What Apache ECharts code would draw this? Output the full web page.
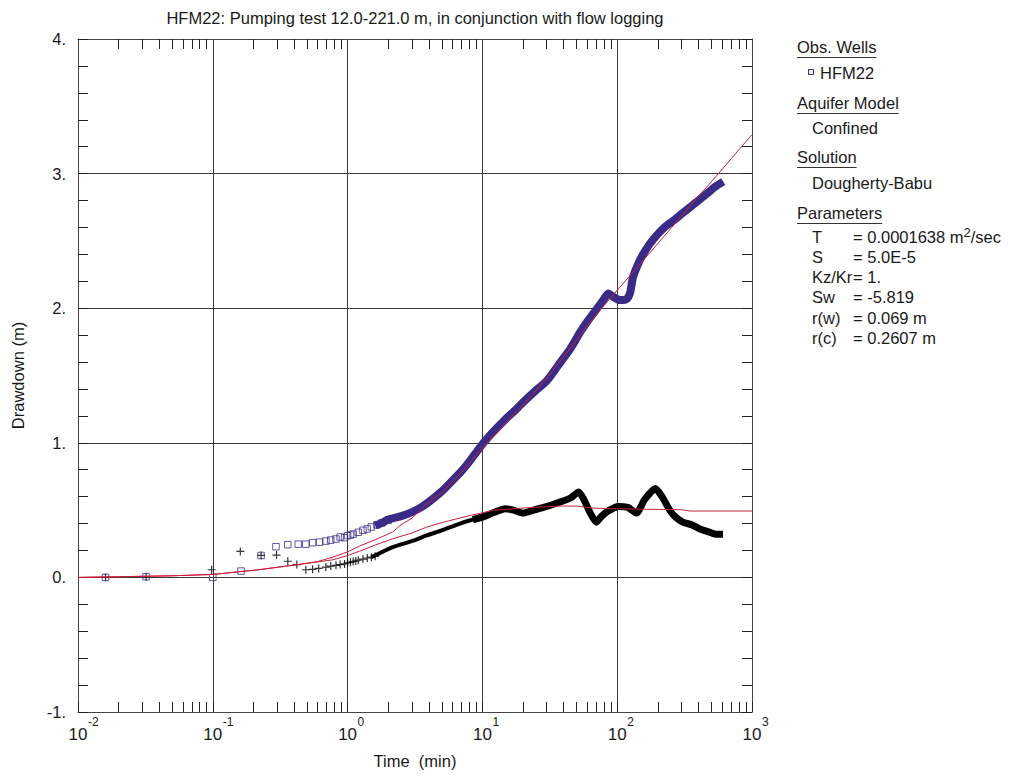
<!DOCTYPE html>
<html><head><meta charset="utf-8">
<script src="https://cdn.jsdelivr.net/npm/echarts@6/dist/echarts.min.js"></script>
<style>html,body{margin:0;padding:0;background:#fff}#c{width:1016px;height:774px}</style>
</head><body><div id="c"></div>
<script>
// ---- Observed drawdown HFM22 (individual early points) ----
const obsEarlyT = [0.016, 0.032, 0.1, 0.162, 0.228, 0.294, 0.36, 0.43, 0.49, 0.55, 0.62, 0.69, 0.75, 0.82, 0.88, 0.95, 1.0, 1.05, 1.1, 1.2, 1.3, 1.4, 1.5, 1.65, 1.8, 2.0];
const obsEarlyS = [0.0, 0.005, 0.0, 0.047, 0.163, 0.228, 0.243, 0.247, 0.247, 0.258, 0.262, 0.27, 0.277, 0.285, 0.3, 0.295, 0.31, 0.315, 0.322, 0.335, 0.35, 0.36, 0.375, 0.39, 0.405, 0.425];
// ---- Observed drawdown HFM22 (dense logging) ----
const obsT = [1.6, 1.8, 2.0, 2.5, 3.0, 3.5, 4.0, 5.0, 6.0, 7.0, 8.0, 10, 12, 15, 17, 20, 25, 30, 35, 40, 45, 53, 60, 70, 80, 86, 95, 105, 118, 125, 131, 147, 160, 175, 200, 230, 261, 300, 347, 400, 461, 530, 612];
const obsS = [0.385, 0.405, 0.43, 0.455, 0.485, 0.52, 0.56, 0.64, 0.72, 0.79, 0.86, 0.99, 1.08, 1.18, 1.23, 1.30, 1.39, 1.46, 1.55, 1.63, 1.70, 1.82, 1.90, 1.99, 2.07, 2.11, 2.08, 2.06, 2.07, 2.12, 2.23, 2.355, 2.42, 2.48, 2.55, 2.61, 2.65, 2.70, 2.75, 2.80, 2.85, 2.90, 2.94];
// ---- Derivative (individual early points) ----
const derEarlyT = [0.016, 0.032, 0.098, 0.16, 0.228, 0.297, 0.36, 0.42, 0.49, 0.55, 0.61, 0.69, 0.75, 0.82, 0.88, 0.95, 1.0, 1.05, 1.1, 1.15, 1.2, 1.3, 1.4, 1.5, 1.6];
const derEarlyS = [0.0, 0.005, 0.057, 0.193, 0.163, 0.166, 0.12, 0.095, 0.057, 0.06, 0.067, 0.077, 0.084, 0.09, 0.095, 0.1, 0.108, 0.112, 0.118, 0.122, 0.128, 0.136, 0.144, 0.15, 0.158];
// ---- Derivative (dense, thinner part) ----
const derMidT = [1.5, 2.16, 3.0, 3.87, 5.0, 6.82, 8.5, 10];
const derMidS = [0.15, 0.225, 0.27, 0.312, 0.35, 0.40, 0.43, 0.448];
// ---- Derivative (dense, late part) ----
const derT = [8.5, 10, 12, 14.8, 17, 20, 24, 28, 33, 37.7, 45, 51.8, 56.5, 63, 70, 76, 83, 92, 101, 120, 139, 160, 192, 215, 245, 270, 307, 360, 411, 470, 540, 610];
const derS = [0.43, 0.448, 0.48, 0.51, 0.50, 0.478, 0.50, 0.518, 0.54, 0.56, 0.59, 0.634, 0.58, 0.48, 0.41, 0.45, 0.485, 0.51, 0.527, 0.52, 0.478, 0.58, 0.66, 0.60, 0.50, 0.45, 0.41, 0.39, 0.36, 0.34, 0.32, 0.32];
// ---- Dougherty-Babu model: drawdown ----
const modT = [0.01, 0.02, 0.05, 0.1, 0.22, 0.3, 0.44, 0.6, 0.78, 1.0, 1.23, 1.6, 2.16, 2.45, 3.0, 3.87, 5.0, 7.0, 10, 15, 20, 30, 40, 50, 60, 76.7, 100, 150, 200, 300, 400, 564, 700, 1000];
const modS = [0.0, 0.005, 0.012, 0.022, 0.057, 0.075, 0.097, 0.118, 0.151, 0.19, 0.233, 0.28, 0.337, 0.386, 0.44, 0.547, 0.63, 0.78, 0.96, 1.15, 1.28, 1.48, 1.64, 1.76, 1.87, 2.0, 2.133, 2.336, 2.48, 2.684, 2.83, 3.0, 3.11, 3.29];
// ---- Dougherty-Babu model: derivative ----
const modDT = [0.01, 0.02, 0.05, 0.1, 0.22, 0.3, 0.44, 0.6, 0.78, 1.0, 1.23, 1.6, 2.16, 3.0, 3.87, 5.13, 8.1, 12.1, 21.5, 37.7, 50.4, 66, 99, 204, 300, 347, 1000];
const modDS = [0.0, 0.005, 0.012, 0.022, 0.057, 0.075, 0.097, 0.115, 0.131, 0.163, 0.195, 0.24, 0.287, 0.33, 0.374, 0.41, 0.46, 0.498, 0.518, 0.53, 0.53, 0.515, 0.51, 0.505, 0.503, 0.493, 0.493];
// ---- Axis ticks ----
const xDecades = [0.01, 0.1, 1, 10, 100];
const xMinorMult = [2, 3, 4, 5, 6, 7, 8, 9];
const xBaseLabel = '10';
// ---- Side panel text ----
const panelHeaders = ['Obs. Wells', 'Aquifer Model', 'Solution', 'Parameters'];
const panelHeaderY = [47, 103, 157, 213];
const wellName = 'HFM22';
const aquiferModel = 'Confined';
const solutionName = 'Dougherty-Babu';
const paramNames = ['T', 'S', 'Kz/Kr', 'Sw', 'r(w)', 'r(c)'];
const paramValues = ['= 0.0001638 m{sup|2}/sec', '= 5.0E-5', '= 1.', '= -5.819', '= 0.069 m', '= 0.2607 m'];
const paramY = [237, 257, 277, 297, 318, 338];
const titleText = 'HFM22: Pumping test 12.0-221.0 m, in conjunction with flow logging';

const FONT = '"Liberation Sans", Arial, Helvetica, sans-serif';
const FS = 16.5;
const TXT = '#1a1a1a';
const BLUE = '#3a2c86';
const RED = '#cc1f3c';

const zip = (a, b) => a.map((v, i) => [v, b[i]]);
const xMinor = [];
xDecades.forEach(d => xMinorMult.forEach(k => xMinor.push(+(k * d).toPrecision(3))));

const cv = document.createElement('canvas').getContext('2d');
cv.font = FS + 'px ' + FONT;
const tw = s => cv.measureText(s).width;

const graphics = [];
graphics.push({type: 'text', x: 415, y: 18, style: {text: titleText, font: FS + 'px ' + FONT, fill: TXT, textAlign: 'center', textVerticalAlign: 'middle'}});
panelHeaders.forEach((h, i) => {
  graphics.push({type: 'text', x: 797, y: panelHeaderY[i], style: {text: h, font: FS + 'px ' + FONT, fill: TXT, textVerticalAlign: 'middle'}});
  graphics.push({type: 'line', shape: {x1: 797, y1: panelHeaderY[i] + 10.5, x2: 797 + tw(h), y2: panelHeaderY[i] + 10.5}, style: {stroke: '#333', lineWidth: 1}});
});
graphics.push({type: 'rect', shape: {x: 808.5, y: 69.5, width: 5, height: 5}, style: {fill: '#fff', stroke: BLUE, lineWidth: 1}});
graphics.push({type: 'text', x: 820, y: 73, style: {text: wellName, font: FS + 'px ' + FONT, fill: TXT, textVerticalAlign: 'middle'}});
graphics.push({type: 'text', x: 812, y: 128, style: {text: aquiferModel, font: FS + 'px ' + FONT, fill: TXT, textVerticalAlign: 'middle'}});
graphics.push({type: 'text', x: 812, y: 183, style: {text: solutionName, font: FS + 'px ' + FONT, fill: TXT, textVerticalAlign: 'middle'}});
paramNames.forEach((p, i) => {
  graphics.push({type: 'text', x: 812, y: paramY[i], style: {text: p, font: FS + 'px ' + FONT, fill: TXT, textVerticalAlign: 'middle'}});
  graphics.push({type: 'text', x: 853, y: paramY[i], style: {text: paramValues[i], font: FS + 'px ' + FONT, fill: TXT, textVerticalAlign: 'middle',
    rich: {sup: {fontSize: 13, fontFamily: FONT, fill: TXT, verticalAlign: 'top', padding: [0, 0, 9, 0]}}}});
});

const grid = {left: 78, top: 39, width: 674, height: 673};
const axisLineStyle = {color: '#444', width: 1};
const tickStyle = {color: '#222'};

const option = {
  animation: false,
  backgroundColor: '#fff',
  grid: grid,
  graphic: graphics,
  xAxis: [
    {type: 'log', logBase: 10, min: 0.01, max: 1000, position: 'bottom',
     axisLine: {show: true, onZero: false, lineStyle: axisLineStyle},
     axisTick: {show: true, inside: true, length: 10, lineStyle: tickStyle},
     splitLine: {show: true, lineStyle: {color: '#3a3a3a', width: 1}},
     axisLabel: {margin: 14, fontSize: 17, fontFamily: FONT, color: TXT, formatter: () => xBaseLabel},
     name: 'Time  (min)', nameLocation: 'middle', nameGap: 40,
     nameTextStyle: {fontSize: FS, fontFamily: FONT, color: TXT}},
    {type: 'log', logBase: 10, min: 0.01, max: 1000, position: 'bottom',
     axisLine: {show: false, onZero: false},
     axisTick: {show: true, inside: true, length: 10, customValues: xMinor, lineStyle: tickStyle},
     axisLabel: {show: true, margin: 4, fontSize: 12, fontFamily: FONT, color: TXT, align: 'left', padding: [0, 0, 0, 10],
                 formatter: v => String(Math.round(Math.log10(v)))},
     splitLine: {show: false}},
    {type: 'log', logBase: 10, min: 0.01, max: 1000, position: 'top',
     axisLine: {show: true, onZero: false, lineStyle: axisLineStyle},
     axisTick: {show: true, inside: true, length: 10, customValues: xMinor, lineStyle: tickStyle},
     axisLabel: {show: false}, splitLine: {show: false}}
  ],
  yAxis: [
    {type: 'value', min: -1, max: 4, interval: 1, position: 'left',
     axisLine: {show: true, onZero: false, lineStyle: axisLineStyle},
     axisTick: {show: true, inside: true, length: 10, lineStyle: tickStyle},
     minorTick: {show: true, splitNumber: 5, length: 10, lineStyle: tickStyle},
     splitLine: {show: true, lineStyle: {color: '#3a3a3a', width: 1}},
     axisLabel: {margin: 12, fontSize: FS, fontFamily: FONT, color: TXT, formatter: v => v + '.'},
     name: 'Drawdown (m)', nameLocation: 'middle', nameGap: 52,
     nameTextStyle: {fontSize: FS, fontFamily: FONT, color: TXT}},
    {type: 'value', min: -1, max: 4, interval: 1, position: 'right',
     axisLine: {show: true, onZero: false, lineStyle: axisLineStyle},
     axisTick: {show: true, inside: true, length: 10, lineStyle: tickStyle},
     minorTick: {show: true, splitNumber: 5, length: 10, lineStyle: tickStyle},
     splitLine: {show: false}, axisLabel: {show: false}}
  ],
  series: [
    {name: 'HFM22 derivative late', type: 'line', data: zip(derT, derS), showSymbol: false, smooth: 0.2,
     lineStyle: {color: '#000', width: 7}, z: 2},
    {name: 'HFM22 derivative mid', type: 'line', data: zip(derMidT, derMidS), showSymbol: false, smooth: 0.2,
     lineStyle: {color: '#000', width: 4}, z: 2},
    {name: 'HFM22 derivative', type: 'scatter', data: zip(derEarlyT, derEarlyS),
     symbol: 'path://M0,5L10,5M5,0L5,10', symbolSize: 8,
     itemStyle: {color: 'none', borderColor: '#000', borderWidth: 1.2}, z: 3},
    {name: 'HFM22', type: 'line', data: zip(obsT, obsS), showSymbol: false, smooth: 0.2,
     lineStyle: {color: BLUE, width: 8}, z: 3},
    {name: 'HFM22 early', type: 'scatter', data: zip(obsEarlyT, obsEarlyS),
     symbol: 'rect', symbolSize: 6.5,
     itemStyle: {color: 'rgba(255,255,255,0)', borderColor: BLUE, borderWidth: 1}, z: 4},
    {name: 'Model derivative', type: 'line', data: zip(modDT, modDS), showSymbol: false,
     lineStyle: {color: RED, width: 1}, z: 5},
    {name: 'Model drawdown', type: 'line', data: zip(modT, modS), showSymbol: false,
     lineStyle: {color: RED, width: 1}, z: 5}
  ]
};
const chart = echarts.init(document.getElementById('c'), null, {renderer: 'svg'});
chart.setOption(option);
</script>
</body></html>
